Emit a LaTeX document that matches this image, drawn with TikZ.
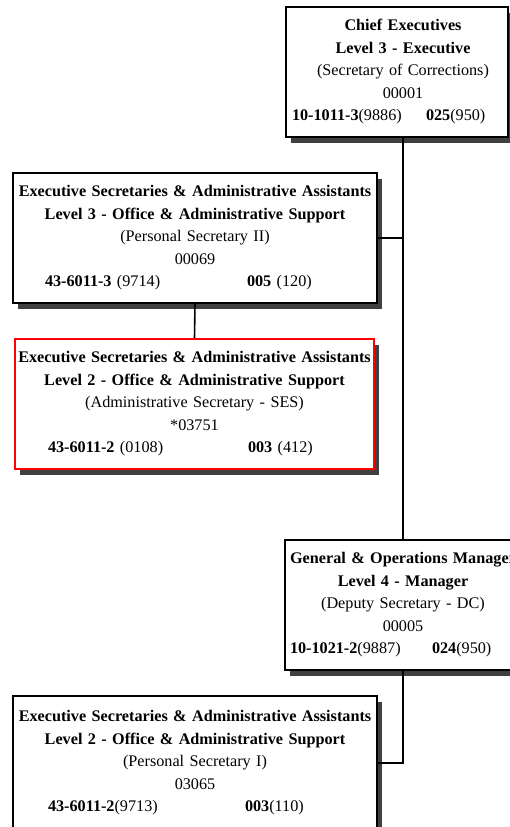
\documentclass[tikz,border=0pt]{standalone}
\usepackage{fontspec}
\setmainfont{Liberation Serif}
\usetikzlibrary{shadows}
\definecolor{shadowgray}{HTML}{404040}
\begin{document}
\begin{tikzpicture}[x=1pt,y=-1pt,
  orgbox/.style={draw=black, line width=1.4pt, fill=white, inner sep=0pt,
    minimum height=130pt,
    drop shadow={shadow xshift=5pt, shadow yshift=-6pt, fill=shadowgray, opacity=1}},
  boxtext/.style={inner sep=0pt, align=center,
    font=\fontsize{16.2}{22.5}\selectfont},
  widebox/.style={orgbox, minimum width=364pt, text width=364pt, boxtext},
  redbox/.style={draw=red, line width=1.8pt},
  link/.style={draw=black, line width=1.6pt}]
\useasboundingbox (0,0) rectangle (510,827);

% Chief executive: frame and its text, the text centred on the reporting line
\node[orgbox, minimum width=222pt] (chief) at (397,72) {};
\node[boxtext, text width=236pt] (chieftext) at (403,72) {%
  \textbf{Chief Executives}\\
  \textbf{Level 3 - Executive}\\
  (Secretary of Corrections)\\
  00001\\
  \makebox[\linewidth][l]{\hspace*{7pt}\makebox[134pt][l]{\textbf{10-1011-3}(9886)}\textbf{025}(950)}};

% Personal secretary II
\node[widebox] (ps2) at (195,238) {%
  \textbf{Executive Secretaries \& Administrative Assistants}\\
  \textbf{Level 3 - Office \& Administrative Support}\\
  (Personal Secretary II)\\
  00069\\
  \makebox[\linewidth][l]{\hspace*{32pt}\makebox[202pt][l]{\textbf{43-6011-3} (9714)}\textbf{005} (120)}};

% Administrative secretary (highlighted)
\node[widebox, redbox, minimum width=359pt, text width=359pt] (adm) at (194.5,404) {%
  \textbf{Executive Secretaries \& Administrative Assistants}\\
  \textbf{Level 2 - Office \& Administrative Support}\\
  (Administrative Secretary - SES)\\
  {*}03751\\
  \makebox[\linewidth][l]{\hspace*{33pt}\makebox[200pt][l]{\textbf{43-6011-2} (0108)}\textbf{003} (412)}};

% Deputy secretary
\node[orgbox, boxtext, minimum width=236pt, text width=236pt] (dep) at (403,605) {%
  \textbf{General \& Operations Manager}\\
  \textbf{Level 4 - Manager}\\
  (Deputy Secretary - DC)\\
  00005\\
  \makebox[\linewidth][l]{\hspace*{5pt}\makebox[142pt][l]{\textbf{10-1021-2}(9887)}\textbf{024}(950)}};

% Personal secretary I
\node[widebox, minimum height=134pt] (ps1) at (195,763) {%
  \textbf{Executive Secretaries \& Administrative Assistants}\\
  \textbf{Level 2 - Office \& Administrative Support}\\
  (Personal Secretary I)\\
  03065\\
  \makebox[\linewidth][l]{\hspace*{35pt}\makebox[197pt][l]{\textbf{43-6011-2}(9713)}\textbf{003}(110)}};

% Reporting lines
\draw[link] (chief.south -| chieftext.center) -- (dep.north);
\draw[link] (ps2.east) -- (ps2.east -| dep.north);
\draw[link] (ps2.south) -- (adm.north);
\draw[link] (dep.south) |- (ps1.east);
\end{tikzpicture}
\end{document}
